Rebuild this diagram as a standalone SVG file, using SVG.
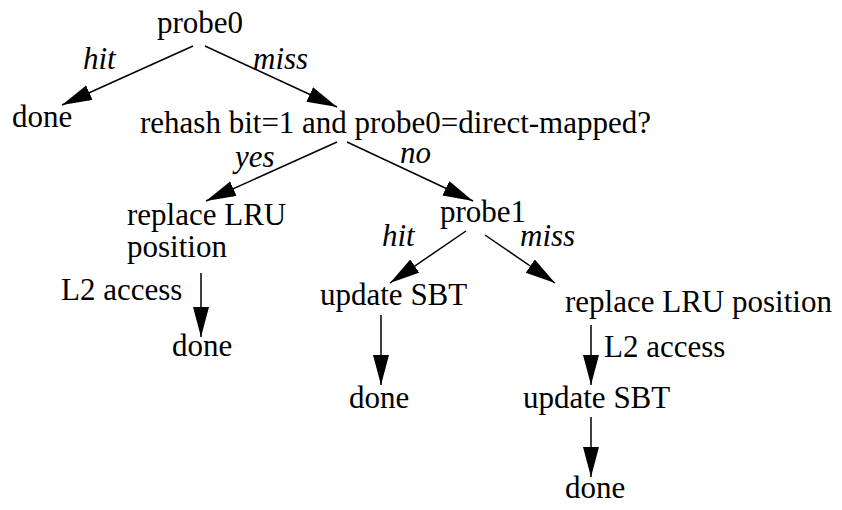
<svg xmlns="http://www.w3.org/2000/svg" width="842" height="510" viewBox="0 0 842 510">
  <style>
    text { font-family: "Liberation Serif", "Times New Roman", serif; font-size: 31px; fill: #000; }
    .lbl { font-style: italic; }
    .edge { stroke: #000; stroke-width: 1.5; fill: none; marker-end: url(#arrow); }
  </style>
  <defs>
    <marker id="arrow" markerUnits="userSpaceOnUse" markerWidth="32" markerHeight="18" refX="30" refY="8" orient="auto">
      <path d="M0,0 L30,8 L0,16 z" fill="#000"/>
    </marker>
  </defs>
  <rect width="842" height="510" fill="#fff"/>

  <g id="connectors">
    <line class="edge" x1="193" y1="46" x2="62" y2="105"/>
    <line class="edge" x1="205" y1="46" x2="337" y2="107"/>
    <line class="edge" x1="337" y1="142" x2="206" y2="201"/>
    <line class="edge" x1="347" y1="142" x2="473" y2="201"/>
    <line class="edge" x1="466" y1="231" x2="390" y2="283"/>
    <line class="edge" x1="485" y1="235" x2="555" y2="283"/>
    <line class="edge" x1="201" y1="273" x2="201" y2="337"/>
    <line class="edge" x1="381" y1="315" x2="381" y2="385"/>
    <line class="edge" x1="591" y1="325" x2="591" y2="385"/>
    <line class="edge" x1="591" y1="417" x2="591" y2="477"/>
  </g>

  <g id="edge-labels">
    <text class="lbl" x="83" y="69">hit</text>
    <text class="lbl" x="253" y="69">miss</text>
    <text class="lbl" x="235" y="167">yes</text>
    <text class="lbl" x="400" y="163">no</text>
    <text class="lbl" x="382" y="246">hit</text>
    <text class="lbl" x="520" y="246">miss</text>
    <text x="61" y="300">L2 access</text>
    <text x="604" y="357">L2 access</text>
  </g>

  <g id="probe0"><text x="157" y="33">probe0</text></g>
  <g id="done-hit0"><text x="12" y="127">done</text></g>
  <g id="rehash-check"><text x="140" y="133">rehash bit=1 and probe0=direct-mapped?</text></g>
  <g id="replace-lru-a">
    <text x="127" y="225">replace LRU</text>
    <text x="127" y="257">position</text>
  </g>
  <g id="done-a"><text x="172" y="356">done</text></g>
  <g id="probe1"><text x="440" y="222">probe1</text></g>
  <g id="update-sbt-hit"><text x="320" y="305">update SBT</text></g>
  <g id="done-hit1"><text x="349" y="408">done</text></g>
  <g id="replace-lru-b"><text x="565" y="312">replace LRU position</text></g>
  <g id="update-sbt-b"><text x="523" y="408">update SBT</text></g>
  <g id="done-b"><text x="565" y="498">done</text></g>
</svg>
